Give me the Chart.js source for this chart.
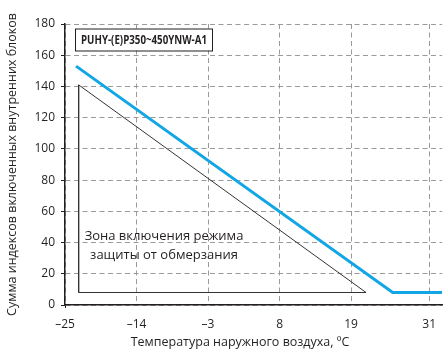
<!DOCTYPE html>
<html>
<head>
<meta charset="utf-8">
<script src="https://cdn.jsdelivr.net/npm/chart.js@4.4.1/dist/chart.umd.min.js"></script>
<style>
  html, body { margin: 0; padding: 0; background: #fff; }
  #wrap { width: 445px; height: 351px; }
</style>
</head>
<body>
<div id="wrap"><canvas id="chart" width="445" height="351"></canvas></div>
<script>
// outdoor temperature ticks (°C) and index range
const tempTicks = [-25, -14, -3, 8, 19, 31];
const indexMin = 0;
const indexMax = 180;
const indexStep = 20;

// blue limit line
const limitTemp = [-23.3, 25.4, 33];
const limitIndex = [153, 8, 8];

// frost-protection zone (triangle)
const zoneTemp = [-22.9, -22.9, 21.3, -22.9];
const zoneIndex = [141, 8, 8, 141];

const modelName = 'PUHY-(E)P350~450YNW-A1';
const zoneLines = ['Зона включения режима', 'защиты от обмерзания'];
const xTitle = 'Температура наружного воздуха, ºC';
const yTitle = 'Сумма индексов включенных внутренних блоков';

const TEXT = '#231f20';
const SANS = '"Open Sans", "Noto Sans", sans-serif';

const toPoints = (xs, ys) => xs.map((x, i) => ({ x, y: ys[i] }));

// squeeze text horizontally to a given width (condensed look)
function fillNarrow(ctx, text, cx, cy, width) {
    const w = ctx.measureText(text).width;
    ctx.save();
    ctx.translate(cx, cy);
    ctx.scale(Math.min(1, width / w), 1);
    ctx.fillText(text, 0, 0);
    ctx.restore();
}

const labelsPlugin = {
    id: 'labels',
    afterDraw(chart) {
        const { ctx, chartArea: a } = chart;
        ctx.save();

        // model name box
        const bx = a.left + 10, by = a.top + 4.5, bw = 137, bh = 22;
        ctx.fillStyle = '#fff';
        ctx.fillRect(bx, by, bw, bh);
        ctx.strokeStyle = TEXT;
        ctx.lineWidth = 1;
        ctx.strokeRect(bx + 0.5, by + 0.5, bw, bh);
        ctx.fillStyle = TEXT;
        ctx.textAlign = 'center';
        ctx.textBaseline = 'middle';
        ctx.font = 'bold 12.5px ' + SANS;
        fillNarrow(ctx, modelName, bx + bw / 2 + 0.5, by + bh / 2 + 1, 126);

        // zone caption
        ctx.font = '13px ' + SANS;
        ctx.fillText(zoneLines[0], 164, 236);
        ctx.fillText(zoneLines[1], 164, 255);

        // axis titles
        ctx.font = '12.5px ' + SANS;
        ctx.fillText(xTitle, 240, 342);
        ctx.translate(12, (a.top + a.bottom) / 2);
        ctx.rotate(-Math.PI / 2);
        ctx.fillText(yTitle, 0, 0);
        ctx.restore();
    }
};

new Chart(document.getElementById('chart'), {
    type: 'scatter',
    data: {
        datasets: [
            {
                data: toPoints(zoneTemp, zoneIndex),
                showLine: true,
                borderColor: '#333',
                borderWidth: 1,
                pointRadius: 0,
                fill: false
            },
            {
                data: toPoints(limitTemp, limitIndex),
                showLine: true,
                borderColor: '#13a6e5',
                borderWidth: 3,
                pointRadius: 0,
                fill: false
            }
        ]
    },
    options: {
        responsive: false,
        animation: false,
        devicePixelRatio: 1,
        layout: { padding: { top: 24, right: 0, left: 0, bottom: 0 } },
        plugins: {
            legend: { display: false },
            tooltip: { enabled: false }
        },
        scales: {
            x: {
                type: 'linear',
                min: -25,
                max: 33,
                afterBuildTicks: (scale) => {
                    scale.ticks = tempTicks.map(v => ({ value: v }));
                },
                afterFit: (scale) => { scale.height = 46; },
                ticks: {
                    color: TEXT,
                    font: { family: SANS, size: 12 },
                    padding: 9,
                    maxRotation: 0,
                    autoSkip: false,
                    callback: (v) => v < 0 ? '–' + Math.abs(v) : String(v)
                },
                grid: {
                    color: '#9a9a9a',
                    lineWidth: 1,
                    tickLength: 3,
                    tickColor: (ctx) => ctx.index === 0 ? TEXT : 'rgba(0,0,0,0)'
                },
                border: { color: TEXT, width: 1.5, dash: [5, 3.5] }
            },
            y: {
                min: indexMin,
                max: indexMax,
                afterFit: (scale) => { scale.width = 65; },
                ticks: {
                    stepSize: indexStep,
                    color: TEXT,
                    font: { family: SANS, size: 12 },
                    padding: 6
                },
                grid: {
                    color: '#9a9a9a',
                    lineWidth: 1,
                    tickLength: 4,
                    tickColor: TEXT
                },
                border: { color: TEXT, width: 1.5, dash: [5, 3.5] }
            }
        }
    },
    plugins: [labelsPlugin]
});
</script>
</body>
</html>
